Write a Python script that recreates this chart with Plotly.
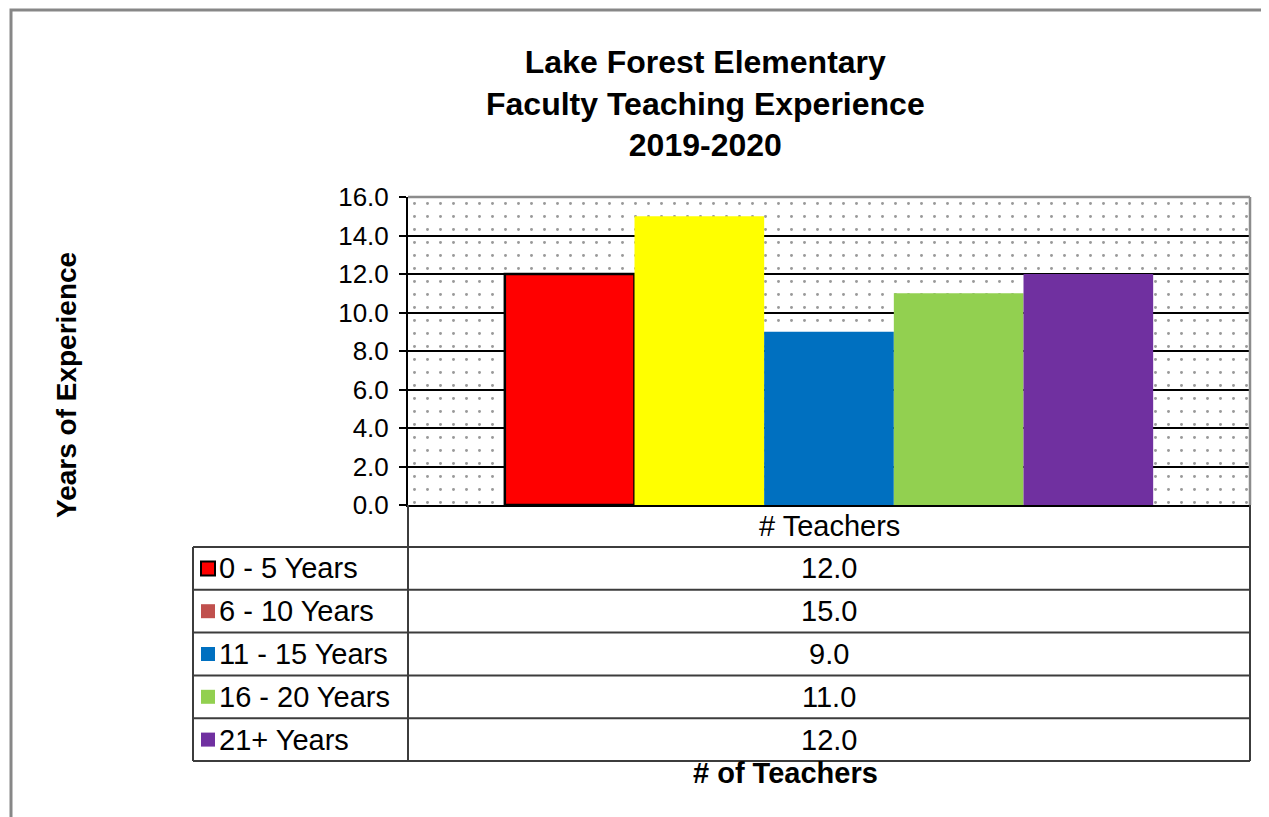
import plotly.graph_objects as go

# chart data
title_lines = ["Lake Forest Elementary", "Faculty Teaching Experience", "2019-2020"]
category = "# Teachers"
series_names = ["0 - 5 Years", "6 - 10 Years", "11 - 15 Years", "16 - 20 Years", "21+ Years"]
teachers = [12.0, 15.0, 9.0, 11.0, 12.0]
y_title = "Years of Experience"
x_title = "# of Teachers"
y_max = 16.0

# styling
bar_colors = ["#FF0000", "#FFFF00", "#0070C0", "#92D050", "#7030A0"]
key_colors = ["#FF0000", "#C0504D", "#0070C0", "#92D050", "#7030A0"]
FONT = "Liberation Sans, Arial, sans-serif"

W, H = 1269, 817
OFF = 8  # page body margin
PL, PR, PT, PB = 408, 1250, 197, 505  # plot area in pixels (screen)


def px(x):
    return (x - PL) / (PR - PL)


def py(y):
    return (PB - y) / (PB - PT)


fig = go.Figure()

# dotted plot-area background
fig.add_trace(go.Bar(
    x=[0], y=[y_max], width=[1],
    marker=dict(color="rgba(0,0,0,0)", line=dict(width=0),
                pattern=dict(shape=".", size=13, solidity=0.04,
                             fgcolor="#333333", bgcolor="rgba(0,0,0,0)")),
    hoverinfo="skip", showlegend=False, xaxis="x", yaxis="y",
))

for i, name in enumerate(series_names):
    fig.add_trace(go.Bar(
        x=[category], y=[teachers[i]], name=name,
        marker=dict(color=bar_colors[i],
                    line=dict(color="black", width=2.5 if i == 0 else 0)),
        xaxis="x2", yaxis="y", showlegend=False,
    ))

shapes = []
# outer chart border
shapes.append(dict(type="rect", xref="paper", yref="paper",
                   x0=px(11), y0=py(10), x1=px(W + 40), y1=py(H + 40),
                   line=dict(color="#878787", width=3)))
# plot-area border (top and right)
shapes.append(dict(type="line", xref="paper", yref="paper", x0=0, x1=1, y0=1, y1=1,
                   line=dict(color="#8c8c8c", width=2.5)))
shapes.append(dict(type="line", xref="paper", yref="paper", x0=1, x1=1, y0=0, y1=1,
                   line=dict(color="#8c8c8c", width=2.5)))

# data table grid
head_bottom = 547
row_h = 42.8
row_lines = [head_bottom + row_h * k for k in range(len(series_names) + 1)]
tbl_left, tbl_mid, tbl_right = 193, 408, 1250
line_style = dict(color="#3c3c3c", width=2)
for yl in row_lines:
    shapes.append(dict(type="line", xref="paper", yref="paper",
                       x0=px(tbl_left), x1=px(tbl_right), y0=py(yl), y1=py(yl),
                       line=line_style))
shapes.append(dict(type="line", xref="paper", yref="paper",
                   x0=px(tbl_left), x1=px(tbl_left), y0=py(head_bottom), y1=py(row_lines[-1]),
                   line=line_style))
shapes.append(dict(type="line", xref="paper", yref="paper",
                   x0=px(tbl_mid), x1=px(tbl_mid), y0=py(PB), y1=py(row_lines[-1]),
                   line=line_style))
shapes.append(dict(type="line", xref="paper", yref="paper",
                   x0=px(tbl_right), x1=px(tbl_right), y0=py(PB), y1=py(row_lines[-1]),
                   line=line_style))

annotations = []
annotations.append(dict(
    text="<br>".join(f"<b>{t}</b>" for t in title_lines),
    xref="paper", yref="paper", x=px(705), y=py(42), xanchor="center", yanchor="top",
    showarrow=False, font=dict(family=FONT, size=32, color="black"), align="center"))
annotations.append(dict(
    text=f"<b>{y_title}</b>", textangle=-90,
    xref="paper", yref="paper", x=px(66), y=py(385), xanchor="center", yanchor="middle",
    showarrow=False, font=dict(family=FONT, size=28, color="black")))
annotations.append(dict(
    text=f"<b>{x_title}</b>",
    xref="paper", yref="paper", x=px(785), y=py(773), xanchor="center", yanchor="middle",
    showarrow=False, font=dict(family=FONT, size=29, color="black")))
annotations.append(dict(
    text=category,
    xref="paper", yref="paper", x=0.5, y=py((PB + head_bottom) / 2), xanchor="center",
    yanchor="middle", showarrow=False, font=dict(family=FONT, size=29, color="black")))

for i, name in enumerate(series_names):
    yc = row_lines[i] + row_h / 2
    annotations.append(dict(
        text=name, xref="paper", yref="paper", x=px(217), y=py(yc),
        xanchor="left", yanchor="middle", showarrow=False,
        font=dict(family=FONT, size=29, color="black")))
    annotations.append(dict(
        text=f"{teachers[i]:.1f}", xref="paper", yref="paper", x=0.5, y=py(yc),
        xanchor="center", yanchor="middle", showarrow=False,
        font=dict(family=FONT, size=29, color="black")))
    shapes.append(dict(
        type="rect", xref="paper", yref="paper",
        x0=px(201), x1=px(215), y0=py(yc - 7), y1=py(yc + 7),
        fillcolor=key_colors[i],
        line=dict(color="black" if i == 0 else key_colors[i], width=2 if i == 0 else 0)))

fig.update_layout(
    width=W, height=H,
    margin=dict(l=PL - OFF, r=W - (PR - OFF), t=PT - OFF, b=H - (PB - OFF), pad=0),
    paper_bgcolor="white", plot_bgcolor="white",
    barmode="group", bargap=0.23, bargroupgap=0,
    showlegend=False,
    font=dict(family=FONT, color="black"),
    xaxis=dict(range=[-0.5, 0.5], showticklabels=False, showgrid=False, zeroline=False,
               ticks="", showline=True, linecolor="black", linewidth=2, fixedrange=True),
    xaxis2=dict(overlaying="x", type="category", visible=False),
    yaxis=dict(range=[0, y_max], dtick=2, tickformat=".1f",
               showgrid=True, gridcolor="black", gridwidth=1.5, zeroline=False,
               showline=True, linecolor="black", linewidth=2,
               ticks="outside", ticklen=7, tickwidth=2, tickcolor="black",
               ticklabelstandoff=5,
               tickfont=dict(family=FONT, size=26, color="black")),
    shapes=shapes,
    annotations=annotations,
)

fig.write_html("out.html")
